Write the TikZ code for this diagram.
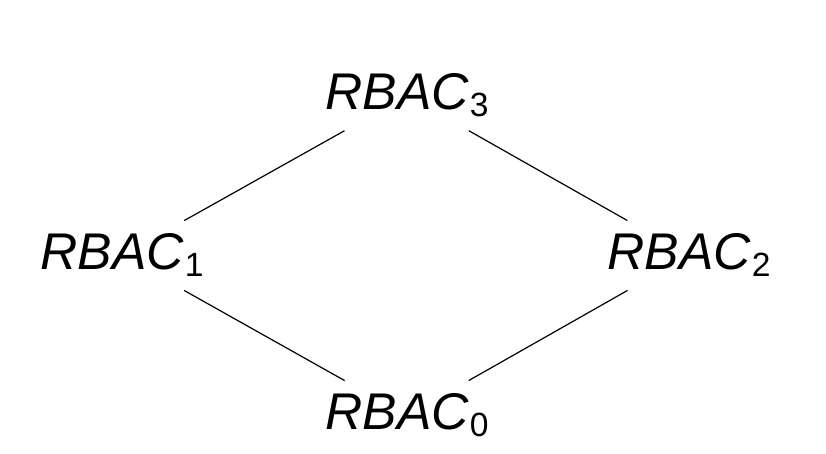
\documentclass[tikz,border=0pt]{standalone}
\usepackage{fontspec}
\setmainfont{Liberation Sans}
\usetikzlibrary{positioning}
\newcommand{\rbac}[1]{{\itshape RBAC}\kern0.5pt\raisebox{-3.5pt}{\fontsize{16.8}{18}\selectfont #1}}

\begin{document}
\begin{tikzpicture}[x=0.5pt, y=-0.5pt]
        \useasboundingbox (0, 0) rectangle (826, 454);
        \tikzset{model/.style={inner xsep=2pt, inner ysep=6.5pt, anchor=base, font=\fontsize{25.8}{30}\selectfont}}
        \node[model] (r3) at (407, 110) {\rbac{3}};
        \node[model] (r1) at (122, 270) {\rbac{1}};
        \node[model] (r2) at (689, 270) {\rbac{2}};
        \node[model] (r0) at (407, 430) {\rbac{0}};
        \draw[line width=0.6pt] (r3) -- (r1);
        \draw[line width=0.6pt] (r3) -- (r2);
        \draw[line width=0.6pt] (r1) -- (r0);
        \draw[line width=0.6pt] (r2) -- (r0);
    \end{tikzpicture}
\end{document}
